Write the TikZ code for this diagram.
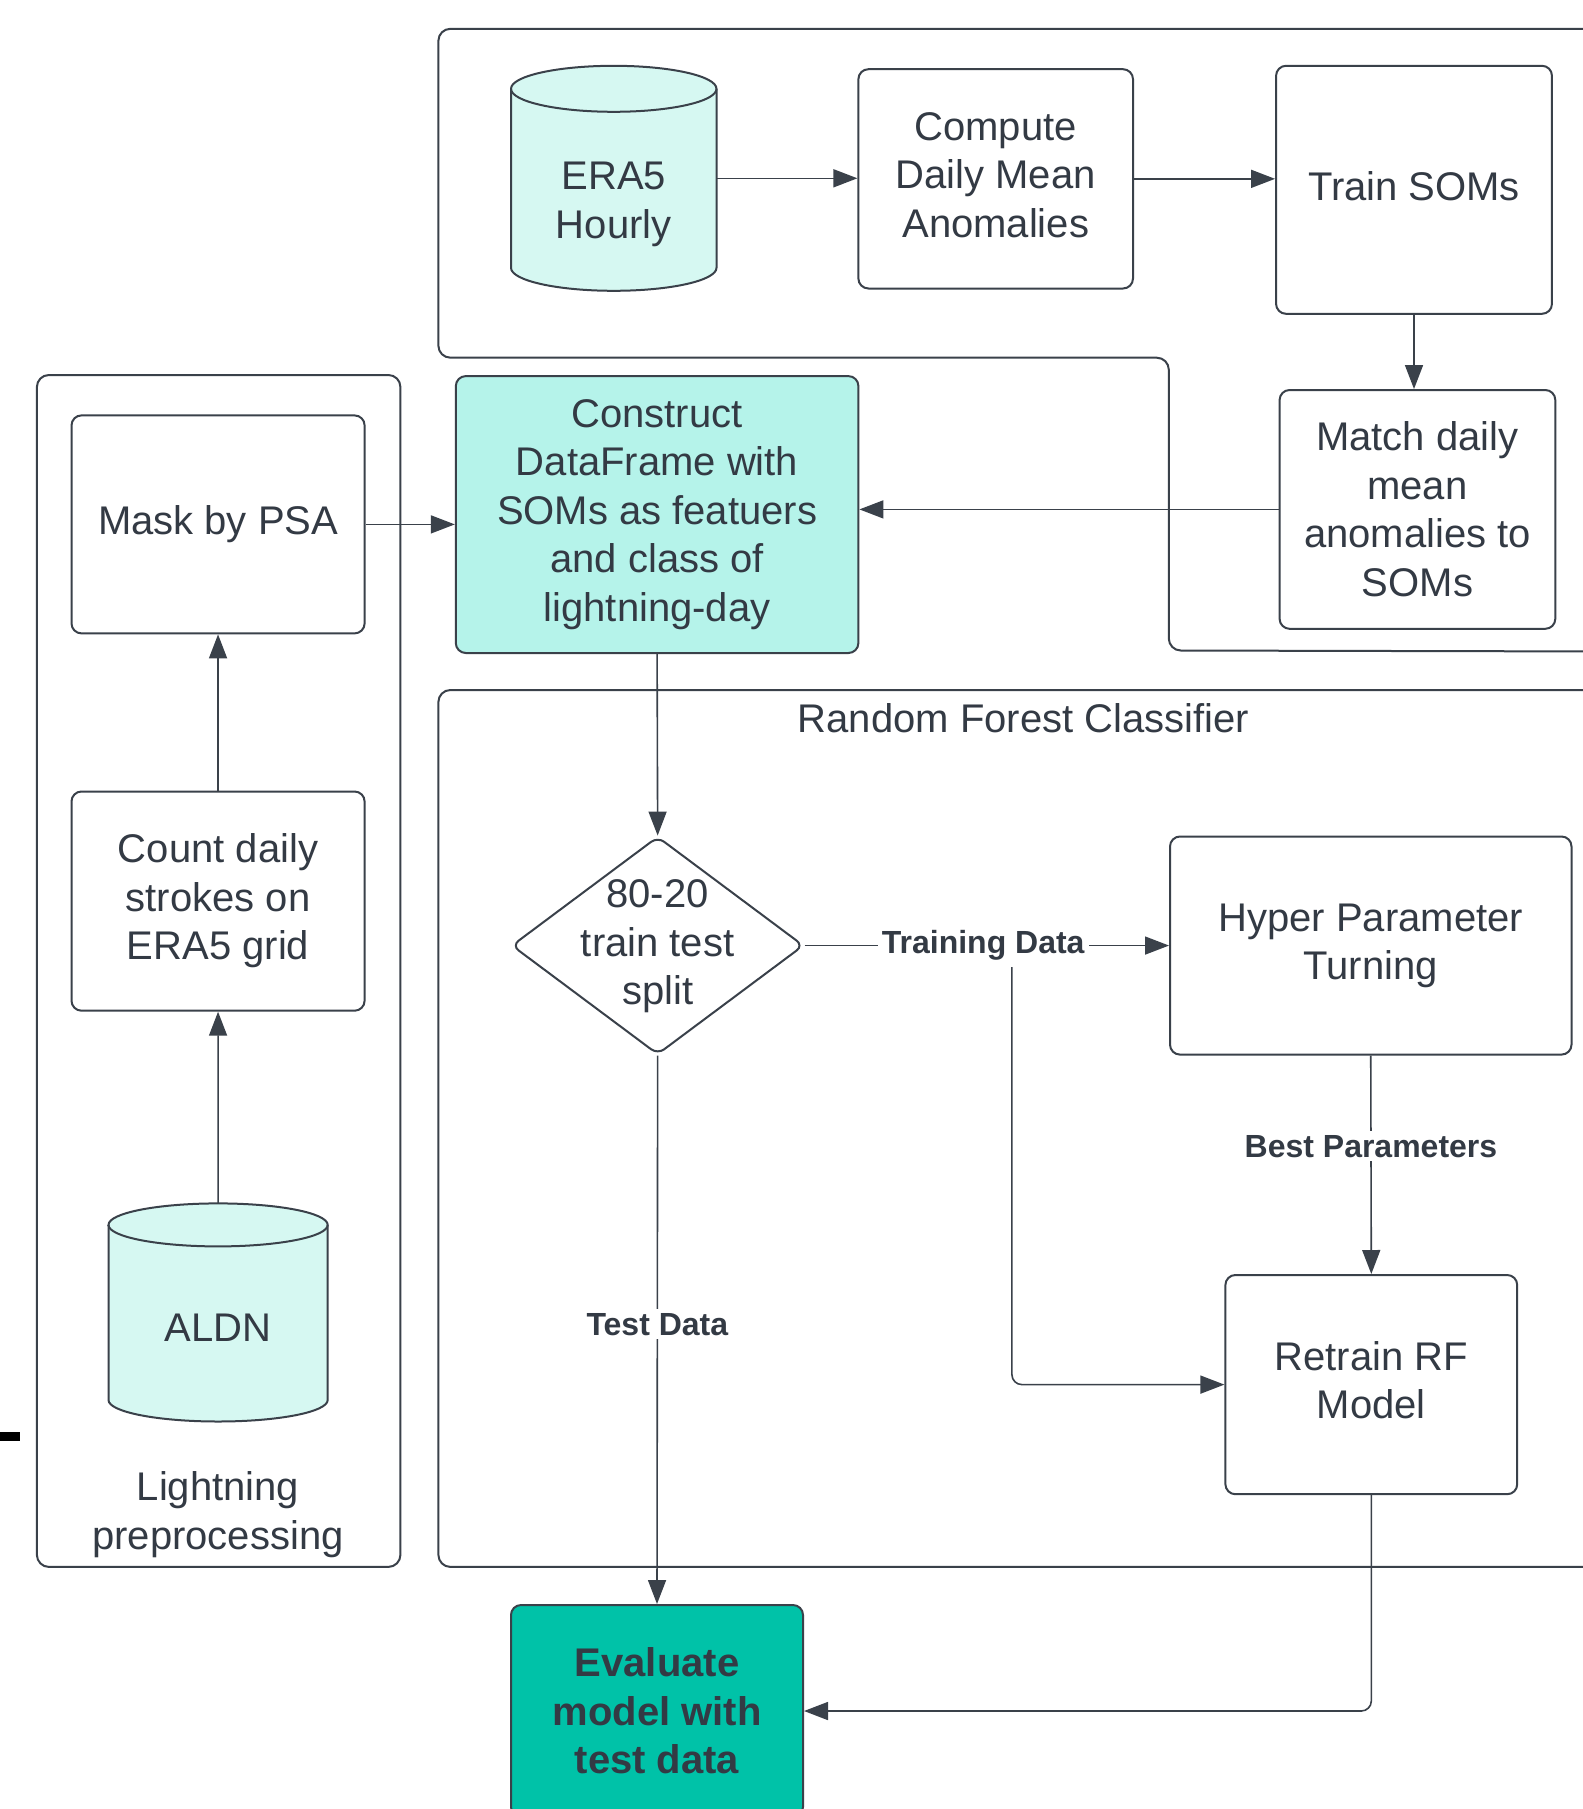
\documentclass[tikz,border=0pt]{standalone}
\usepackage{fontspec}
\setmainfont{Liberation Sans}
\usetikzlibrary{arrows.meta,shapes.geometric,calc}
\definecolor{lc}{HTML}{3A414A}
\definecolor{tc}{HTML}{333A44}
\definecolor{cylc}{HTML}{D6F8F2}
\definecolor{consc}{HTML}{B5F3EA}
\definecolor{evalc}{HTML}{00C2A8}
\newcommand{\lift}[2]{\raisebox{#1}{\begin{tabular}{@{}c@{}}#2\end{tabular}}}
\begin{document}
\begin{tikzpicture}[x=0.5pt,y=0.5pt,
  mainfont/.style={font=\fontsize{20}{24.25}\selectfont},
  txt/.style={text=tc, align=center, inner sep=0pt, mainfont},
  box/.style={draw=lc, line width=1pt, rounded corners=5pt, fill=white, text=tc, align=center, inner sep=0pt, mainfont},
  group/.style={draw=lc, line width=1pt, rounded corners=6pt},
  conn/.style={draw=lc, line width=0.8pt, -{Triangle[length=12pt,width=9pt]}},
  lbl/.style={fill=white, text=tc, inner sep=2pt, font=\fontsize{16}{19}\selectfont\bfseries},
  cyl/.style={fill=cylc, draw=lc, line width=1pt}
]
\useasboundingbox (0,0) rectangle (1583,-1809);
\clip (0,0) rectangle (1583,-1809);
\fill[white] (0,0) rectangle (1583,-1809);

% groups
\draw[group] (1620,-28.8) -- (438.4,-28.8) -- (438.4,-357.7) -- (1168.8,-357.7) -- (1168.8,-650.5) -- (1620,-651.5);
\draw[group] (36.9,-375) rectangle (400.4,-1566.9);
\draw[group] (1620,-690) -- (438.4,-690) -- (438.4,-1566.9) -- (1620,-1566.9);

% black mark at left edge
\fill[black] (0,-1432) rectangle (20,-1441);

% ERA5 cylinder
\path[cyl] (511,-88.8) -- (511,-267.8) arc[start angle=180,end angle=360,x radius=51.375pt,y radius=11.5pt] -- (716.5,-88.8) arc[start angle=0,end angle=180,x radius=51.375pt,y radius=11.5pt] -- cycle;
\draw[lc, line width=1pt] (511,-88.8) arc[start angle=180,end angle=360,x radius=51.375pt,y radius=11.5pt];
\node[minimum width=102.75pt, minimum height=112.5pt, inner sep=0pt] (era) at (613.75,-178.3) {};
\node[txt] (eraT) at (613.75,-204.2) {ERA5\\Hourly};

% ALDN cylinder
\path[cyl] (108.5,-1224.9) -- (108.5,-1400) arc[start angle=180,end angle=360,x radius=54.8pt,y radius=10.75pt] -- (327.7,-1224.9) arc[start angle=0,end angle=180,x radius=54.8pt,y radius=10.75pt] -- cycle;
\draw[lc, line width=1pt] (108.5,-1224.9) arc[start angle=180,end angle=360,x radius=54.8pt,y radius=10.75pt];
\node[minimum width=109.6pt, minimum height=109.05pt, inner sep=0pt] (aldn) at (218.1,-1312.45) {};
\node[txt] (aldnT) at (218.1,-1328) {ALDN};

% boxes
\node[box, minimum width=137.3pt, minimum height=109.65pt] (comp) at (995.7,-178.85) {\lift{1.7pt}{Compute\\Daily Mean\\Anomalies}};
\node[box, minimum width=137.95pt, minimum height=124pt] (train) at (1414,-189.8) {\raisebox{3.7pt}{Train SOMs}};
\node[box, minimum width=137.85pt, minimum height=119.4pt] (match) at (1417.45,-509.4) {Match daily\\mean\\anomalies to\\SOMs};
\node[box, fill=consc, minimum width=201.3pt, minimum height=138.45pt] (cons) at (657.1,-514.55) {Construct\\DataFrame with\\SOMs as featuers\\and class of\\lightning-day};
\node[box, minimum width=146.55pt, minimum height=109pt] (mask) at (218.05,-524.4) {Mask by PSA};
\node[box, minimum width=146.55pt, minimum height=109.6pt] (count) at (218.05,-901.1) {Count daily\\strokes on\\ERA5 grid};
\node[txt] (lightT) at (218,-1514.5) {Lightning\\preprocessing};

\node[txt] (rfT) at (1023.4,-717.7) {Random Forest Classifier};

\node[diamond, draw=lc, line width=1pt, rounded corners=4pt, minimum width=146pt, minimum height=109pt, inner sep=0pt] (split) at (657.65,-945.55) {};
\node[txt] (splitT) at (657.65,-946.3) {80-20\\train test\\split};

\node[box, minimum width=200.75pt, minimum height=109.05pt] (hyper) at (1370.75,-945.55) {\lift{2.6pt}{Hyper Parameter\\Turning}};
\node[box, minimum width=145.9pt, minimum height=109.6pt] (retrain) at (1371.3,-1384.6) {\lift{2.3pt}{Retrain RF\\Model}};
\node[box, fill=evalc, minimum width=146pt, minimum height=106pt, font=\fontsize{20}{24.25}\selectfont\bfseries] (eval) at (657,-1711) {Evaluate\\model with\\test data};

% connectors
\draw[conn] (era.east) -- (era.east -| comp.west);
\draw[conn] (comp.east) -- (comp.east -| train.west);
\draw[conn] (train.south) -- (train.south |- match.north);
\draw[conn] (match.west) -- (match.west -| cons.east);
\draw[conn] (mask.east) -- (mask.east -| cons.west);
\draw[conn] (count.north) -- (mask.south);
\draw[conn] (aldn.north) -- (count.south);
\draw[conn] (cons.south) -- (split.north);

\draw[conn] (split.east) -- (hyper.west) node[lbl, pos=0.49] (trainL) {Training Data};
\coordinate (brStart) at (1011.9,-967);
\draw[conn, rounded corners=5pt] (brStart) |- (retrain.west);
\draw[conn] (hyper.south) -- (retrain.north) node[lbl, pos=0.415] (bestL) {Best Parameters};
\draw[conn] (split.south) -- (eval.north) node[lbl, pos=0.49] (testL) {Test Data};
\draw[conn, rounded corners=5pt] (retrain.south) |- (eval.east);
\end{tikzpicture}
\end{document}
